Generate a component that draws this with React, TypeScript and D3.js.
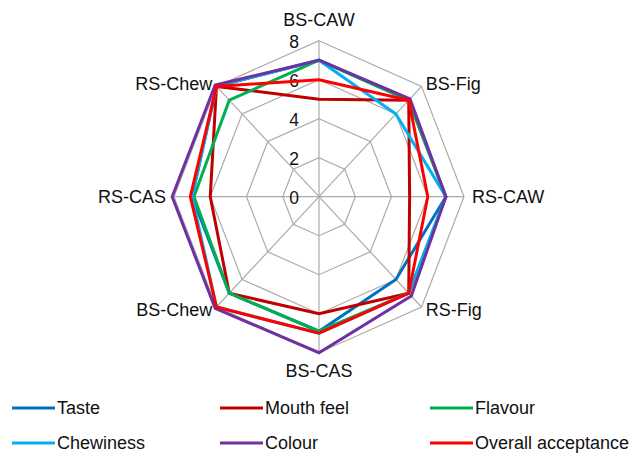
import React from "react";
import * as d3 from "d3";

const width = 632;
const height = 454;
const center = { x: 319, y: 196.7 };
const radiusX = 145;
const radiusY = 156;

const axes = ["BS-CAW", "BS-Fig", "RS-CAW", "RS-Fig", "BS-CAS", "BS-Chew", "RS-CAS", "RS-Chew"];
const ticks = [0, 2, 4, 6, 8];

const taste = [7, 7, 7, 6, 6.9, 7, 7, 8];
const mouthFeel = [5, 7, 5, 7, 6, 7, 6, 8];
const flavour = [7, 7, 7, 7, 6.9, 7, 6.9, 7];
const chewiness = [7, 6, 7, 7, 7, 8, 7, 8];
const colour = [7, 7.1, 7, 7.2, 8, 8.1, 8.1, 8.1];
const overall = [6, 7, 6, 7, 7, 8, 7.1, 8];

const seriesNames = ["Taste", "Mouth feel", "Flavour", "Chewiness", "Colour", "Overall acceptance"];
const seriesValues = [taste, mouthFeel, flavour, chewiness, colour, overall];
const seriesColors = ["#0070C0", "#C00000", "#00B050", "#00B0F0", "#7030A0", "#FF0000"];

const font = "'Liberation Sans', Arial, sans-serif";

export default function App() {
  const rX = d3.scaleLinear().domain([0, 8]).range([0, radiusX]);
  const rY = d3.scaleLinear().domain([0, 8]).range([0, radiusY]);
  const angle = d3.scaleLinear().domain([0, axes.length]).range([0, 2 * Math.PI]);

  const point = (i: number, v: number): [number, number] => {
    const a = angle(i);
    return [center.x + rX(v) * Math.sin(a), center.y - rY(v) * Math.cos(a)];
  };

  const line = d3.line<[number, number]>().curve(d3.curveLinearClosed);

  const legendCols = [12, 220, 430];
  const legendRows = [408, 443];

  return (
    <svg
      width={width}
      height={height}
      style={{ position: "absolute", left: 0, top: 0, background: "#fff" }}
      fontFamily={font}
    >
      {/* grid rings */}
      {ticks.filter(t => t > 0).map(t => (
        <path
          key={t}
          d={line(axes.map((_, i) => point(i, t))) || ""}
          fill="none"
          stroke="#ABABAB"
          strokeWidth={1.2}
        />
      ))}
      {/* spokes */}
      {axes.map((_, i) => {
        const [x, y] = point(i, 8);
        return <line key={i} x1={center.x} y1={center.y} x2={x} y2={y} stroke="#ABABAB" strokeWidth={1.2} />;
      })}
      {/* tick labels */}
      {ticks.map(t => (
        <text key={t} x={center.x - 20} y={center.y - rY(t) + 1} dy="0.35em" textAnchor="end" fontSize={17.5} fill="#111">
          {t}
        </text>
      ))}
      {/* series */}
      {seriesValues.map((vals, s) => (
        <path
          key={s}
          d={line(vals.map((v, i) => point(i, v))) || ""}
          fill="none"
          stroke={seriesColors[s]}
          strokeWidth={3}
          strokeLinejoin="miter"
        />
      ))}
      {/* axis labels */}
      {axes.map((name, i) => {
        const a = angle(i);
        const ux = Math.sin(a);
        const uy = -Math.cos(a);
        const [vx, vy] = point(i, 8);
        const anchor = ux > 0.1 ? "start" : ux < -0.1 ? "end" : "middle";
        const x = vx + ux * (Math.abs(ux) > 0.9 ? 8 : 6);
        const y = vy + uy * (uy < -0.9 ? 21 : uy > 0.9 ? 18 : 4);
        return (
          <text key={name} x={x} y={y} dy="0.35em" textAnchor={anchor} fontSize={18} fill="#111">
            {name}
          </text>
        );
      })}
      {/* legend */}
      {seriesNames.map((name, s) => {
        const x = legendCols[s % 3];
        const y = legendRows[Math.floor(s / 3)];
        return (
          <g key={name} transform={`translate(${x},${y})`}>
            <line x1={0} x2={43} y1={0} y2={0} stroke={seriesColors[s]} strokeWidth={3} />
            <text x={45} y={0} dy="0.35em" fontSize={18} fill="#111">
              {name}
            </text>
          </g>
        );
      })}
    </svg>
  );
}
